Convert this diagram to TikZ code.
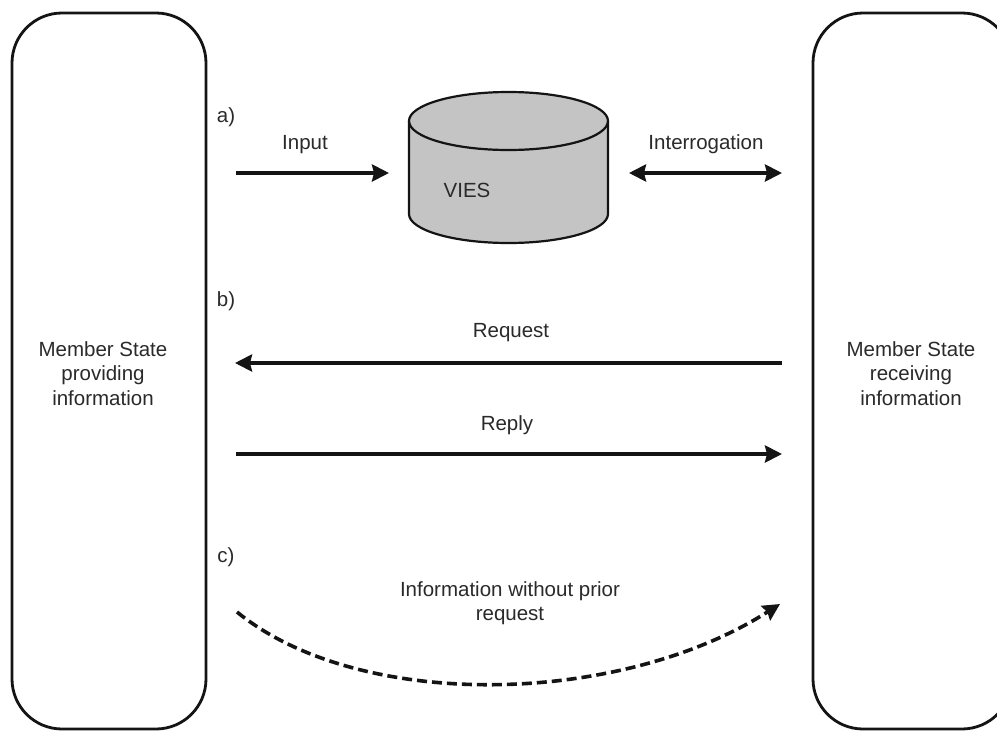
\documentclass[tikz,border=0pt]{standalone}
\usepackage{fontspec}
\setmainfont{Liberation Sans}
\usetikzlibrary{arrows.meta}
\definecolor{txt}{HTML}{2A2A2A}
\definecolor{line}{HTML}{141414}
\definecolor{vgray}{HTML}{C4C4C4}
\begin{document}
\begin{tikzpicture}[x=1pt,y=1pt,
  every node/.style={font=\fontsize{20.5}{24.5}\selectfont, text=txt, inner sep=0pt},
  msbox/.style={draw=line, line width=2.8pt, rounded corners=50pt, align=center},
  conn/.style={line width=3.6pt, draw=line, -{Stealth[length=17pt,width=17pt,inset=2pt]}},
  dconn/.style={line width=3.6pt, draw=line, {Stealth[length=17pt,width=17pt,inset=2pt]}-{Stealth[length=17pt,width=17pt,inset=2pt]}},
  dashconn/.style={conn, dash pattern=on 10pt off 5pt},
  lbl/.style={align=center}]
\clip (0,0) rectangle (997,-731);
\fill[white] (0,0) rectangle (997,-731);
% member state boxes
\node[msbox, minimum width=194pt, minimum height=716pt] (L) at (109,-371) {};
\node[lbl] (Ltxt) at (103,-373.5) {Member State\\providing\\information};
\node[msbox, minimum width=199pt, minimum height=716pt] (R) at (912.5,-371) {};
\node[lbl] (Rtxt) at (911,-373.5) {Member State\\receiving\\information};
% VIES cylinder
\fill[vgray] (409,-121) -- (409,-214) arc[start angle=180,end angle=360,x radius=99.5,y radius=29] -- (608,-121) arc[start angle=0,end angle=180,x radius=99.5,y radius=29] -- cycle;
\draw[line, line width=2.2pt] (409,-121) -- (409,-214) arc[start angle=180,end angle=360,x radius=99.5,y radius=29] -- (608,-121);
\draw[line, line width=2.2pt] (508.5,-121) ellipse[x radius=99.5,y radius=29];
\node (vies) at (467,-190) {VIES};
% labels
\node (la) at (226,-117) {a)};
\node (lb) at (226,-301) {b)};
\node (lc) at (226,-557) {c)};
\node (tin) at (305,-145) {Input};
\node (tint) at (706,-144) {Interrogation};
\node (treq) at (511,-333) {Request};
\node (trep) at (507,-425) {Reply};
\node[lbl] (tinfo) at (510,-603) {Information without prior\\request};
% connector endpoints
\coordinate (a1) at (236,-173);
\coordinate (a2) at (389,-173);
\coordinate (i1) at (629,-173);
\coordinate (i2) at (782,-173);
\coordinate (q1) at (782,-363);
\coordinate (q2) at (235,-363);
\coordinate (r1) at (236,-454);
\coordinate (r2) at (782,-454);
\coordinate (c1) at (237,-612);
\coordinate (c2) at (780,-604);
\draw[conn] (a1) -- (a2);
\draw[dconn] (i1) -- (i2);
\draw[conn] (q1) -- (q2);
\draw[conn] (r1) -- (r2);
\draw[dashconn] (c1) .. controls (360,-712) and (620,-706) .. (c2);
\end{tikzpicture}
\end{document}
